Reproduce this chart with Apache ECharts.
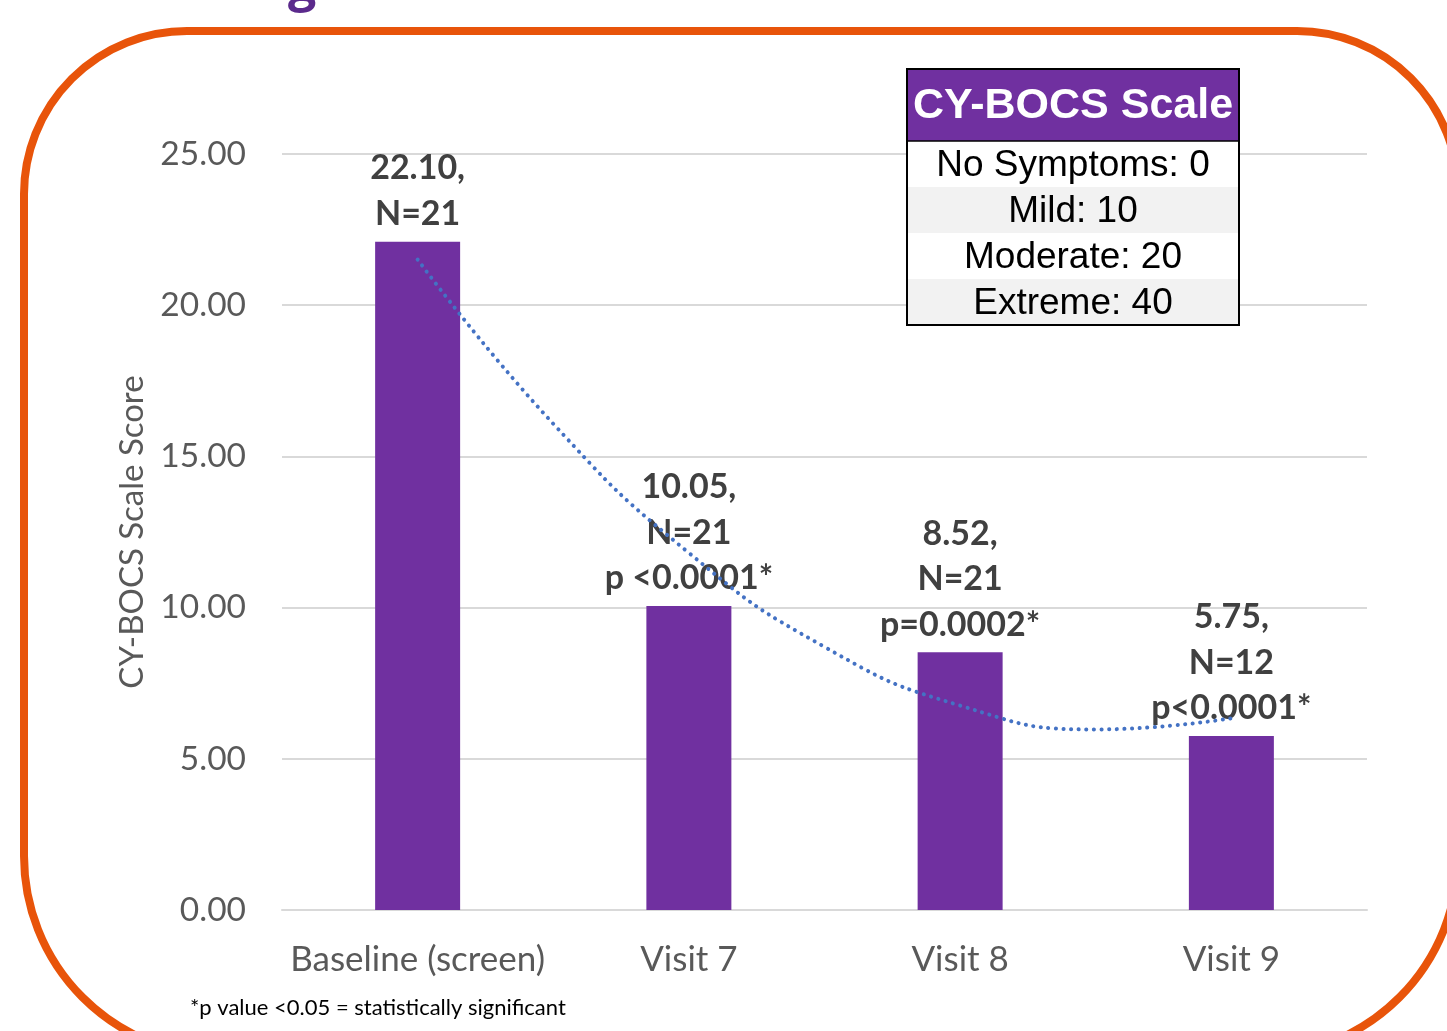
<!DOCTYPE html>
<html>
<head>
<meta charset="utf-8">
<script src="https://cdn.jsdelivr.net/npm/echarts@6/dist/echarts.min.js"></script>
<style>
html,body{margin:0;padding:0;background:#fff;}
#chart{width:1447px;height:1031px;}
</style>
</head>
<body>
<div id="chart"></div>
<script>
// ---- data ----
var categories = ['Baseline (screen)', 'Visit 7', 'Visit 8', 'Visit 9'];
var scores = [22.10, 10.05, 8.52, 5.75];
var labelTexts = ['22.10,\nN=21', '10.05,\nN=21\np <0.0001*', '8.52,\nN=21\np=0.0002*', '5.75,\nN=12\np<0.0001*'];
// dotted trend line (position in category units, score)
var trendX = [1, 1.5, 2, 2.5, 3, 3.5, 4];
var trendY = [21.51, 16.08, 11.81, 8.70, 6.76, 5.97, 6.34];
var yTicks = { min: 0, max: 25, interval: 5 };
var scaleRows = ['No Symptoms: 0', 'Mild: 10', 'Moderate: 20', 'Extreme: 40'];
var scaleTitle = 'CY-BOCS Scale';
var yAxisName = 'CY-BOCS Scale Score';
var footnote = '*p value <0.05 = statistically significant';

var chart = echarts.init(document.getElementById('chart'));

var trendData = trendX.map(function (x, i) { return [x, trendY[i]]; });

var TX = 907, TY = 69, TW = 332;
var rowBgs = ['#FFFFFF', '#F2F2F2', '#FFFFFF', '#F2F2F2'];
var tableEls = [
  { type: 'rect', z: 50, shape: { x: TX, y: TY, width: TW, height: 72 }, style: { fill: '#7030A0' } },
  { type: 'text', z: 52, style: { x: TX + TW / 2, y: TY + 37, text: scaleTitle, fill: '#FFFFFF', font: 'bold 43px "Liberation Sans", Arial, sans-serif', align: 'center', verticalAlign: 'middle' } }
];
scaleRows.forEach(function (t, i) {
  var y0 = TY + 72 + i * 46;
  tableEls.push({ type: 'rect', z: 50, shape: { x: TX, y: y0, width: TW, height: 46 }, style: { fill: rowBgs[i] } });
  tableEls.push({ type: 'text', z: 52, style: { x: TX + TW / 2, y: y0 + 25, text: t, fill: '#000000', font: '37px "Liberation Sans", Arial, sans-serif', align: 'center', verticalAlign: 'middle' } });
});
tableEls.push({ type: 'line', z: 53, shape: { x1: TX, y1: TY + 72, x2: TX + TW, y2: TY + 72 }, style: { stroke: '#000', lineWidth: 1.5 } });
tableEls.push({ type: 'rect', z: 53, shape: { x: TX, y: TY, width: TW, height: 256 }, style: { fill: 'none', stroke: '#000', lineWidth: 2 } });

var FONT = 'Lato, "Open Sans", sans-serif';

var option = {
  backgroundColor: '#FFFFFF',
  animation: false,
  grid: { left: 282, right: 80, top: 154, bottom: 121, containLabel: false },
  xAxis: [
    {
      type: 'category',
      data: categories,
      axisLine: { show: true, lineStyle: { color: '#D9D9D9', width: 2 } },
      axisTick: { show: false },
      axisLabel: { interval: 0, color: '#595959', fontSize: 35, fontFamily: FONT, margin: 32 }
    },
    {
      type: 'value',
      min: 0.5, max: 4.5,
      show: false
    }
  ],
  yAxis: {
    type: 'value',
    min: yTicks.min, max: yTicks.max, interval: yTicks.interval,
    name: yAxisName,
    nameLocation: 'middle',
    nameGap: 133,
    nameTextStyle: { color: '#595959', fontSize: 33, fontFamily: FONT },
    axisLine: { show: false },
    axisTick: { show: false },
    axisLabel: {
      color: '#595959', fontSize: 33.5, fontFamily: FONT, margin: 36,
      formatter: function (v) { return v.toFixed(2); }
    },
    splitLine: { lineStyle: { color: '#D9D9D9', width: 2 } }
  },
  series: [
    {
      type: 'bar',
      xAxisIndex: 0,
      data: scores,
      barWidth: 85,
      itemStyle: { color: '#7030A0' },
      z: 2,
      label: {
        show: true,
        position: 'top',
        distance: 5,
        color: '#404040',
        fontSize: 34,
        fontWeight: 'bold',
        fontFamily: FONT,
        lineHeight: 45.5,
        align: 'center',
        formatter: function (p) { return labelTexts[p.dataIndex]; }
      }
    },
    {
      type: 'line',
      xAxisIndex: 1,
      data: trendData,
      smooth: true,
      symbol: 'none',
      z: 10,
      lineStyle: { color: '#4472C4', width: 4, type: [0.1, 7.5], cap: 'round' }
    }
  ],
  graphic: [
    {
      type: 'rect', z: 100,
      shape: { x: 24, y: 31, width: 1434, height: 1025, r: [163, 161, 200, 200] },
      style: { fill: 'none', stroke: '#E8540A', lineWidth: 8 }
    },
    {
      type: 'text', z: 100,
      style: { x: 288, y: 12, text: 'g', fill: '#5B2A8C', font: 'bold 50px "Open Sans", sans-serif', align: 'left', verticalAlign: 'bottom' }
    },
    {
      type: 'text', z: 100,
      style: { x: 190, y: 1008, text: footnote, fill: '#000000', font: '22px ' + FONT, align: 'left', verticalAlign: 'middle' }
    }
  ].concat(tableEls)
};
chart.setOption(option);
</script>
</body>
</html>
